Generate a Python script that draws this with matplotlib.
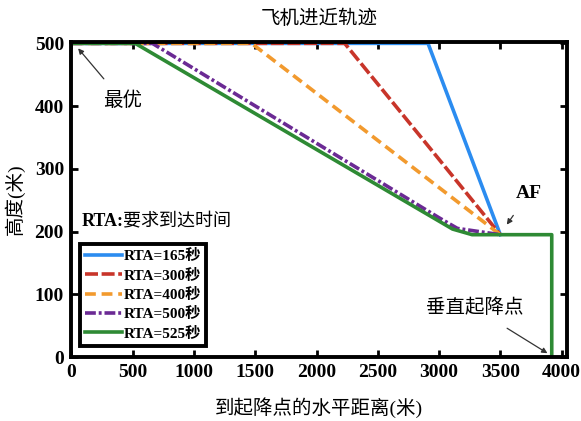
import matplotlib
matplotlib.use("Agg")
import matplotlib.pyplot as plt

plt.rcParams['font.family'] = ['Liberation Serif', 'Noto Sans CJK SC']

labels = ["RTA=165秒", "RTA=300秒", "RTA=400秒", "RTA=500秒", "RTA=525秒"]
x_blue = [0, 2910, 3500]
y_blue = [500, 500, 195]
x_red = [0, 2230, 3500]
y_red = [500, 500, 195]
x_orange = [0, 1470, 3500]
y_orange = [500, 500, 195]
x_purple = [0, 660, 3000, 3150, 3500]
y_purple = [500, 500, 222, 205, 195]
x_green = [0, 520, 3110, 3270, 3920, 3920]
y_green = [500, 500, 204, 195, 195, 0]
xticks = [0, 500, 1000, 1500, 2000, 2500, 3000, 3500, 4000]
yticks = [0, 100, 200, 300, 400, 500]

colors = ["#2b8cf0", "#c8352a", "#f29a2e", "#6b2a94", "#2e8a34"]

fig = plt.figure(figsize=(5.81, 4.21), dpi=100)
ax = fig.add_axes([0.122, 0.152, 0.854, 0.748])

lw = 2.6
ax.plot(x_blue, y_blue, color=colors[0], lw=lw, label=labels[0])
ax.plot(x_red, y_red, color=colors[1], lw=lw, dashes=(3.6, 1.0), label=labels[1])
ax.plot(x_orange, y_orange, color=colors[2], lw=lw, dashes=(3.0, 1.6), label=labels[2])
ax.plot(x_purple, y_purple, color=colors[3], lw=lw, dashes=(3.0, 0.8, 0.8, 0.8), label=labels[3])
ax.plot(x_green, y_green, color=colors[4], lw=lw, label=labels[4])

ax.set_xlim(-5, 4045)
ax.set_ylim(0, 502)
ax.set_xticks(xticks)
ax.set_yticks(yticks)
ax.tick_params(direction='in', top=True, right=True, length=5, width=2,
               labelsize=14, pad=5)
for lab in ax.get_xticklabels() + ax.get_yticklabels():
    lab.set_fontweight('bold')
for sp in ax.spines.values():
    sp.set_linewidth(2.8)

ax.set_title("飞机进近轨迹", fontsize=14, pad=13)
ax.set_xlabel("到起降点的水平距离(米)", fontsize=14, labelpad=12)
ax.set_ylabel("高度(米)", fontsize=14, labelpad=7)

arrow = dict(arrowstyle='-|>', color='#333333', lw=0.9, mutation_scale=8, shrinkB=0)
ax.annotate("最优", xy=(54, 492), xytext=(413, 409), fontsize=14,
            ha='center', va='center', arrowprops=dict(arrow, shrinkA=9))
ax.annotate("AF", xy=(3553, 211), xytext=(3730, 260), fontsize=14,
            fontweight='bold', ha='center', va='center',
            arrowprops=dict(arrow, shrinkA=9))
ax.annotate("垂直起降点", xy=(3885, 6), xytext=(3290, 78), fontsize=14,
            ha='center', va='center', arrowprops=dict(arrow, shrinkA=11))
ax.text(80, 216, "RTA:", fontsize=13, fontweight='bold', ha='left', va='center')
ax.text(420, 216, "要求到达时间", fontsize=13, ha='left', va='center')

leg = ax.legend(loc='lower left', bbox_to_anchor=(0.012, 0.025), fancybox=False,
                edgecolor='black', framealpha=1, handlelength=2.4,
                handletextpad=0.1, labelspacing=0.35, borderpad=0.35,
                borderaxespad=0.2,
                prop={'weight': 'bold', 'size': 11})
leg.get_frame().set_linewidth(2.8)

fig.savefig("out.png", dpi=100)
